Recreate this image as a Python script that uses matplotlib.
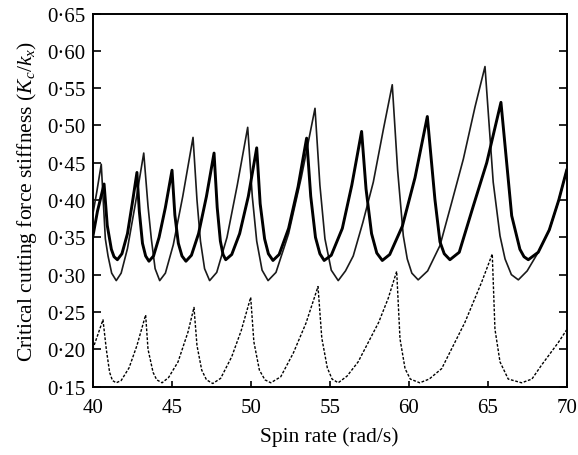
import matplotlib
matplotlib.use('Agg')
import matplotlib.pyplot as plt
from matplotlib.ticker import FuncFormatter, MultipleLocator

plt.rcParams['font.family'] = ['Liberation Serif', 'DejaVu Serif']
plt.rcParams['mathtext.fontset'] = 'custom'
plt.rcParams['mathtext.rm'] = 'Liberation Serif'
plt.rcParams['mathtext.it'] = 'Liberation Serif:italic'

# thick solid curve
thick_x = [40.0, 40.3, 40.72, 40.92, 41.18, 41.35, 41.56, 41.85, 42.2, 42.5, 42.8,
           42.95, 43.15, 43.35, 43.56, 43.85, 44.2, 44.6, 45.02,
           45.2, 45.42, 45.65, 45.9, 46.25, 46.7, 47.2, 47.68,
           47.88, 48.08, 48.25, 48.42, 48.8, 49.3, 49.85, 50.38,
           50.6, 50.88, 51.12, 51.41, 51.8, 52.4, 53.0, 53.54,
           53.8, 54.1, 54.38, 54.65, 55.1, 55.8, 56.4, 57.02,
           57.3, 57.65, 57.98, 58.33, 58.8, 59.6, 60.4, 61.18,
           61.66, 61.98, 62.25, 62.61, 63.2, 64.09, 64.94, 65.84,
           66.52, 67.04, 67.3, 67.57, 68.2, 68.9, 69.5, 70.0]
thick_y = [0.350, 0.385, 0.4215, 0.366, 0.334, 0.324, 0.320, 0.328, 0.355, 0.395, 0.437,
           0.385, 0.342, 0.325, 0.318, 0.325, 0.350, 0.390, 0.440,
           0.380, 0.342, 0.325, 0.318, 0.326, 0.355, 0.405, 0.463,
           0.390, 0.345, 0.327, 0.320, 0.327, 0.355, 0.405, 0.470,
           0.395, 0.348, 0.328, 0.319, 0.327, 0.362, 0.418, 0.483,
           0.405, 0.350, 0.328, 0.319, 0.326, 0.362, 0.420, 0.492,
           0.415, 0.355, 0.329, 0.319, 0.327, 0.365, 0.430, 0.512,
           0.401, 0.344, 0.328, 0.320, 0.330, 0.392, 0.450, 0.531,
           0.379, 0.334, 0.324, 0.320, 0.330, 0.360, 0.400, 0.440]

# thin solid curve
thin_x = [40.0, 40.25, 40.54, 40.8, 40.97, 41.2, 41.49, 41.8, 42.2, 42.7, 43.23,
          43.5, 43.71, 43.95, 44.24, 44.6, 45.1, 45.7, 46.35,
          46.6, 46.82, 47.08, 47.4, 47.85, 48.5, 49.15, 49.81,
          50.1, 50.38, 50.72, 51.1, 51.6, 52.4, 53.2, 54.07,
          54.38, 54.7, 55.1, 55.54, 56.0, 56.49, 57.1, 57.76, 58.4, 58.96,
          59.3, 59.66, 59.91, 60.2, 60.6, 61.2, 61.98, 62.7, 63.46, 64.2, 64.83,
          65.35, 65.78, 66.1, 66.5, 66.94, 67.5, 68.2, 68.9, 69.5, 70.0]
thin_y = [0.380, 0.410, 0.448, 0.348, 0.325, 0.302, 0.292, 0.302, 0.335, 0.395, 0.463,
          0.392, 0.348, 0.308, 0.292, 0.302, 0.340, 0.405, 0.484,
          0.400, 0.345, 0.308, 0.292, 0.303, 0.350, 0.420, 0.4975,
          0.405, 0.345, 0.306, 0.292, 0.303, 0.355, 0.430, 0.523,
          0.420, 0.348, 0.306, 0.292, 0.305, 0.325, 0.370, 0.424, 0.495, 0.5546,
          0.440, 0.352, 0.321, 0.302, 0.293, 0.305, 0.339, 0.395, 0.455, 0.525, 0.579,
          0.424, 0.352, 0.321, 0.300, 0.293, 0.305, 0.330, 0.360, 0.400, 0.440]

# dashed curve
dash_x = [40.0, 40.3, 40.65, 40.86, 41.07, 41.25, 41.49, 41.8, 42.3, 42.8, 43.35,
          43.5, 43.82, 44.05, 44.39, 44.8, 45.4, 46.03, 46.41,
          46.6, 46.9, 47.2, 47.6, 48.1, 48.8, 49.4, 50.0,
          50.2, 50.55, 50.9, 51.27, 51.9, 52.7, 53.5, 54.26,
          54.5, 54.85, 55.15, 55.54, 56.1, 56.8, 58.1, 58.7, 59.24,
          59.45, 59.77, 60.1, 60.7, 61.3, 62.09, 63.56, 64.62, 65.29,
          65.46, 65.78, 66.3, 67.15, 67.8, 68.42, 69.47, 70.0]
dash_y = [0.200, 0.218, 0.2395, 0.200, 0.169, 0.158, 0.155, 0.158, 0.175, 0.205, 0.246,
          0.200, 0.169, 0.159, 0.155, 0.162, 0.183, 0.223, 0.256,
          0.205, 0.172, 0.159, 0.154, 0.161, 0.190, 0.225, 0.2696,
          0.210, 0.172, 0.159, 0.155, 0.163, 0.195, 0.235, 0.284,
          0.215, 0.175, 0.160, 0.155, 0.164, 0.183, 0.236, 0.268, 0.3044,
          0.214, 0.174, 0.160, 0.155, 0.160, 0.174, 0.236, 0.290, 0.3276,
          0.227, 0.183, 0.160, 0.155, 0.160, 0.179, 0.209, 0.226]

fig = plt.figure(figsize=(5.78, 4.56), dpi=100)
ax = fig.add_axes([0.1604, 0.1502, 0.82, 0.8178])

ax.plot(thin_x, thin_y, color='#1a1a1a', lw=1.2)
ax.plot(thick_x, thick_y, color='black', lw=2.1)
ax.plot(dash_x, dash_y, color='black', lw=1.0, dashes=(2.0, 1.2))

ax.set_xlim(40, 70)
ax.set_ylim(0.15, 0.65)
ax.xaxis.set_major_locator(MultipleLocator(5))
ax.yaxis.set_major_locator(MultipleLocator(0.05))
ax.yaxis.set_major_formatter(FuncFormatter(lambda v, p: f"{v:.2f}".replace('.', '\u00b7')))

for s in ax.spines.values():
    s.set_linewidth(1.4)
ax.tick_params(axis='both', direction='in', labelsize=15, width=1.2)
ax.tick_params(axis='y', length=6, right=True, pad=5)
ax.tick_params(axis='x', length=4.5, pad=8)

ax.set_xlabel('Spin rate (rad/s)', fontsize=15.5, labelpad=7)
ax.set_ylabel(r'Critical cutting force stiffness ($K_c/k_x$)', fontsize=15.5, labelpad=6)

fig.savefig('out.png', dpi=100)
